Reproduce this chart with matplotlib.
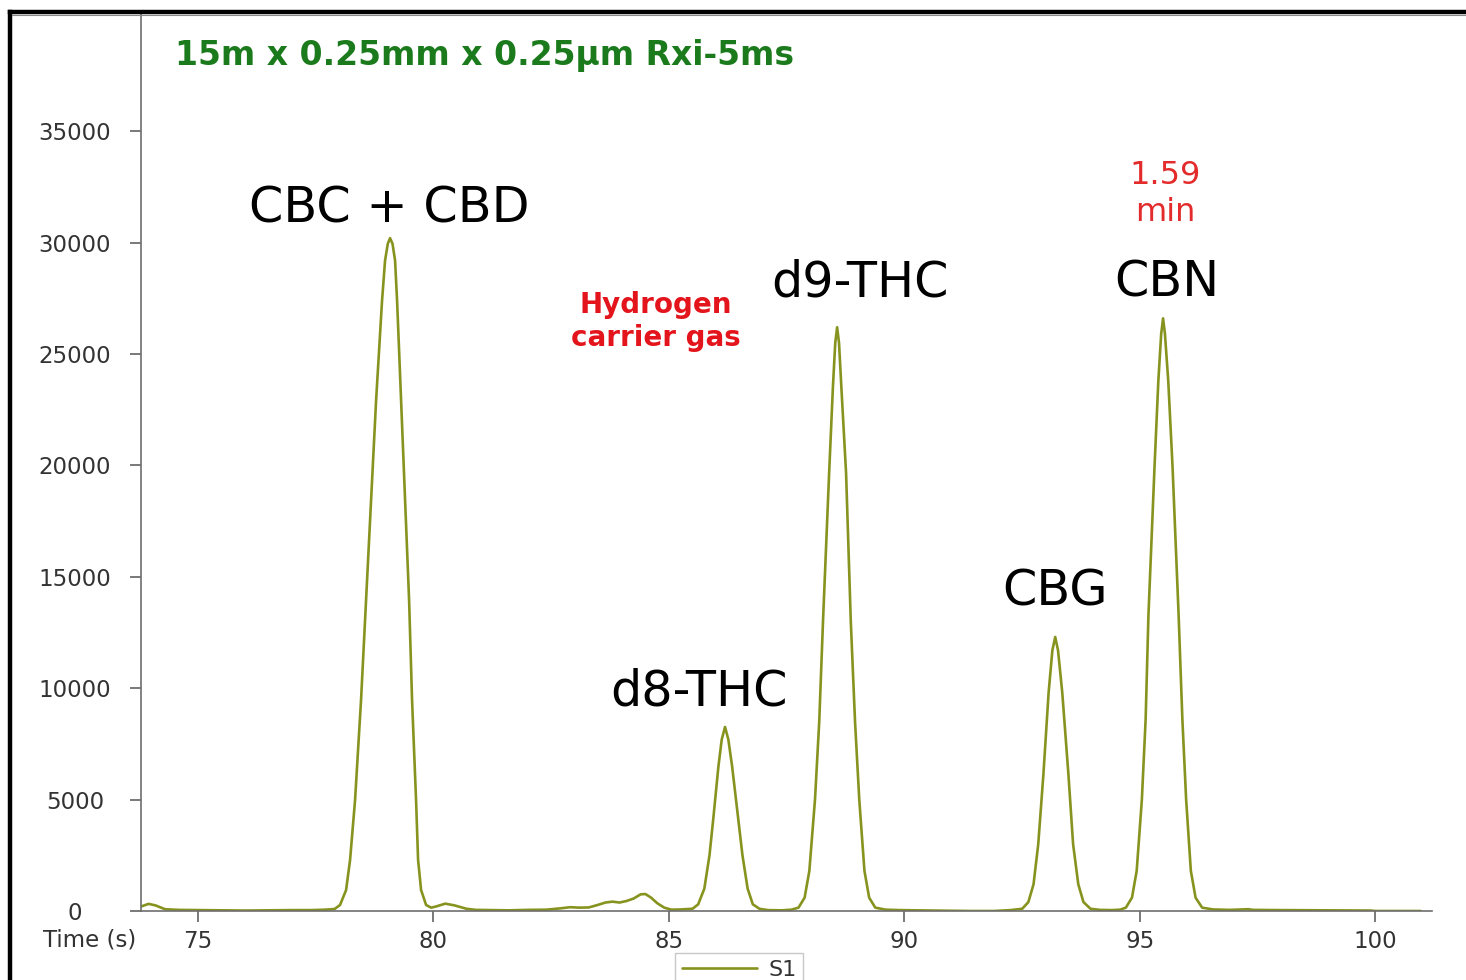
import matplotlib
matplotlib.use("Agg")
import matplotlib.pyplot as plt
from matplotlib.lines import Line2D

# ---- data (time in s, intensity) ----
time_s = [73.79, 73.95, 74.10, 74.30, 74.60, 75.00, 75.50, 76.00, 76.50, 77.00,
          77.40, 77.70, 77.90, 78.016, 78.144, 78.229, 78.335, 78.462, 78.568, 78.675,
          78.781, 78.908, 78.972, 79.03, 79.078, 79.13, 79.184, 79.227, 79.312, 79.397,
          79.482, 79.545, 79.630, 79.673, 79.737, 79.843, 79.95, 80.05, 80.25, 80.45, 80.70,
          80.90, 81.20, 81.60, 82.00, 82.40, 82.70, 82.90, 83.10, 83.30, 83.50,
          83.65, 83.80, 83.95, 84.10, 84.25, 84.40, 84.50, 84.62, 84.75, 84.90,
          85.05, 85.25, 85.40, 85.50, 85.62, 85.75, 85.86, 85.94, 86.05, 86.12,
          86.19, 86.26, 86.34, 86.47, 86.56, 86.67, 86.78, 86.92, 87.10, 87.40,
          87.60, 87.75, 87.88, 87.98, 88.10, 88.19, 88.27, 88.40, 88.48, 88.53,
          88.57, 88.61, 88.66, 88.76, 88.86, 88.95, 89.04, 89.15, 89.25, 89.38,
          89.60, 89.90, 90.20, 90.60, 91.00, 91.40, 91.90, 92.25, 92.50, 92.63,
          92.74, 92.84, 92.95, 93.06, 93.14, 93.20, 93.26, 93.35, 93.48, 93.58,
          93.69, 93.80, 93.95, 94.15, 94.40, 94.58, 94.70, 94.83, 94.93, 95.04,
          95.12, 95.18, 95.31, 95.39, 95.45, 95.49, 95.53, 95.60, 95.69, 95.82,
          95.90, 95.98, 96.08, 96.18, 96.32, 96.55, 96.90, 97.30, 97.40, 98.00,
          99.00, 99.90, 100.00, 100.96]
signal = [200, 320, 250, 80, 50, 40, 30, 20, 30, 40,
          40, 60, 90, 270, 940, 2290, 4980, 9470, 13960, 18450,
          22900, 27400, 29200, 29950, 30200, 29950, 29200, 27400, 22900, 18450,
          13960, 9470, 4980, 2290, 940, 270, 150, 200, 330, 250, 100,
          50, 40, 30, 50, 60, 120, 170, 150, 160, 280,
          380, 420, 380, 450, 560, 750, 760, 600, 350, 150,
          60, 70, 90, 100, 300, 1000, 2500, 4130, 6500, 7700,
          8260, 7700, 6500, 4130, 2500, 1000, 300, 100, 40, 30,
          60, 150, 600, 1800, 5000, 8500, 13000, 19650, 23500, 25500,
          26200, 25500, 23500, 19650, 13000, 8500, 5000, 1800, 600, 150,
          60, 40, 30, 20, 10, 0, 0, 40, 100, 400,
          1200, 3000, 6150, 9800, 11700, 12300, 11700, 9800, 6150, 3000,
          1200, 400, 100, 50, 40, 60, 150, 600, 1800, 5000,
          8600, 13300, 20000, 23800, 25900, 26600, 25900, 23800, 20000, 13300,
          8600, 5000, 1800, 600, 150, 70, 50, 80, 50, 40,
          30, 20, 0, 0]

x_ticks = [75, 80, 85, 90, 95, 100]
y_ticks = [0, 5000, 10000, 15000, 20000, 25000, 30000, 35000]
peak_labels = ["CBC + CBD", "d8-THC", "d9-THC", "CBG", "CBN"]
series_name = "S1"
title_text = "15m x 0.25mm x 0.25µm Rxi-5ms"
gas_lines = ["Hydrogen", "carrier gas"]
time_lines = ["1.59", "min"]

W, H = 1466, 980
fig = plt.figure(figsize=(W / 100, H / 100), dpi=100)
plt.rcParams['font.family'] = ['DejaVu Sans']

def fx(px):
    return px / W

def fy(py):
    return 1 - py / H

ax = fig.add_axes([fx(141), fy(911), fx(1432) - fx(141), fy(14) - fy(911)])
line_color = "#87931f"
ax.plot(time_s, signal, color=line_color, lw=1.9, label=series_name,
        solid_joinstyle='round', solid_capstyle='round')

ax.set_xlim(73.79, 101.2)
ax.set_ylim(0, 40260)
ax.set_xticks(x_ticks)
ax.set_yticks(y_ticks)
ax.set_xticklabels([str(t) for t in x_ticks])
ax.set_yticklabels([str(t) for t in y_ticks])

for s in ("top", "right"):
    ax.spines[s].set_visible(False)
for s in ("left", "bottom"):
    ax.spines[s].set_color("#6e6e6e")
    ax.spines[s].set_linewidth(1.2)

ax.tick_params(axis='both', direction='out', length=8, width=1.1, color="#555555",
               labelcolor="#333333", labelsize=16.5)
ax.tick_params(axis='y', pad=39.5)
ax.tick_params(axis='x', pad=6)
for lab in ax.get_yticklabels():
    lab.set_ha('center')

# axis title at the left of x tick labels
fig.text(fx(90), fy(940), "Time (s)", ha='center', va='center', fontsize=16.5, color="#333333")

# title
fig.text(fx(175), fy(65), title_text, ha='left', va='baseline', fontsize=23.8,
         fontweight='bold', color="#1b7a1b")

# peak labels
label_pos = [(389, 222), (699, 705), (860, 296), (1055, 605), (1167, 296)]
for txt, (px, py) in zip(peak_labels, label_pos):
    fig.text(fx(px), fy(py), txt, ha='center', va='baseline', fontsize=35.5, color="black")

# red annotations
for txt, py in zip(gas_lines, [313, 346]):
    fig.text(fx(656), fy(py), txt, ha='center', va='baseline', fontsize=20,
             fontweight='bold', color="#e3141c")
for txt, py in zip(time_lines, [184, 221]):
    fig.text(fx(1165), fy(py), txt, ha='center', va='baseline', fontsize=23,
             color="#e32b2b")

# legend below the plot
leg = fig.legend(loc='upper center', bbox_to_anchor=(fx(739), fy(953)), borderaxespad=0,
                 fontsize=16, handlelength=3.4, fancybox=False, frameon=True,
                 edgecolor="#bbbbbb", borderpad=0.3, handletextpad=0.5)
leg.get_frame().set_linewidth(1.0)
for t in leg.get_texts():
    t.set_color("#333333")

# screenshot frame lines (left and top)
fig.add_artist(Line2D([fx(10), fx(10)], [fy(12), 0], color="black", lw=3.2, transform=fig.transFigure))
fig.add_artist(Line2D([fx(10), 1], [fy(12), fy(12)], color="black", lw=3.2, transform=fig.transFigure))
fig.add_artist(Line2D([fx(12), 1], [fy(15), fy(15)], color="#888888", lw=0.8, transform=fig.transFigure))

fig.savefig("out.png", dpi=100)
